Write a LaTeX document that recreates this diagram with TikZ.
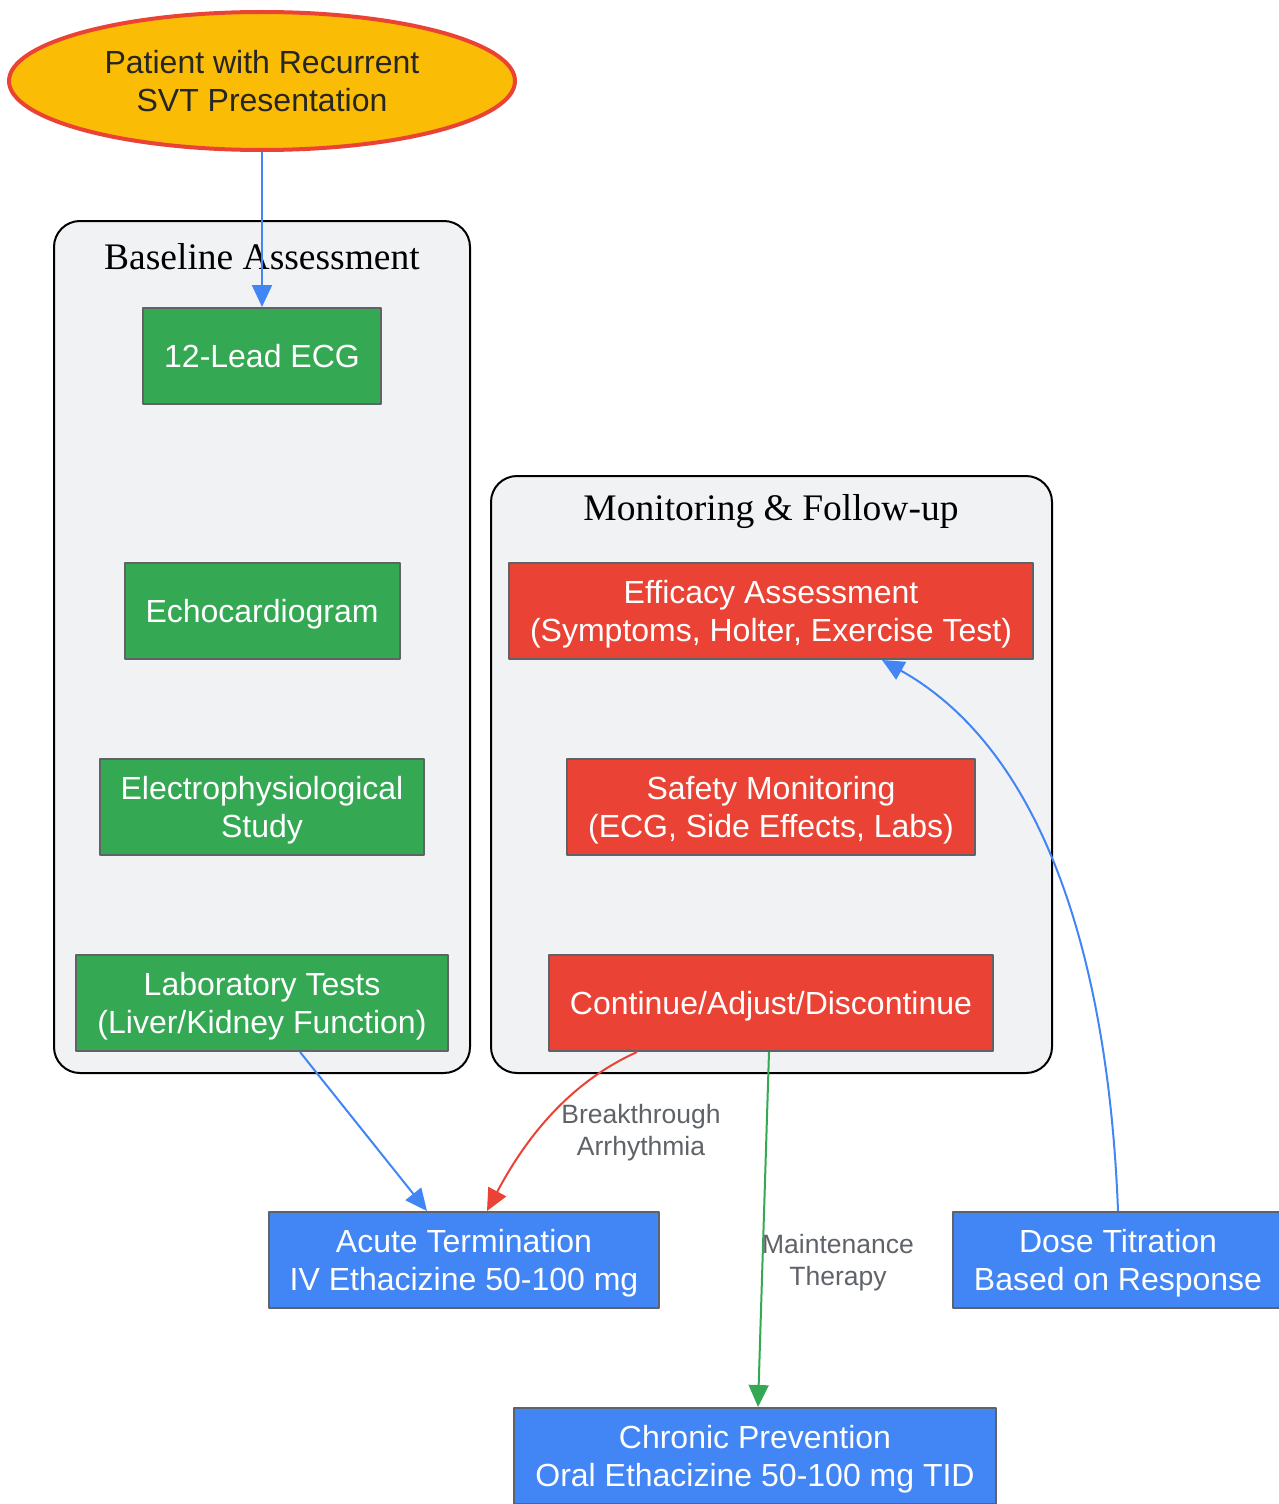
\documentclass[tikz,border=0pt]{standalone}
\usepackage{fontspec}
\setmainfont{Liberation Serif}
\newfontfamily\arialfont{Liberation Sans}
\usetikzlibrary{shapes.geometric,arrows.meta}
\definecolor{ggreen}{HTML}{34A853}
\definecolor{gred}{HTML}{EA4335}
\definecolor{gblue}{HTML}{4285F4}
\definecolor{gyellow}{HTML}{FBBC05}
\definecolor{ggray}{HTML}{5F6368}
\definecolor{clfill}{HTML}{F1F2F4}
\tikzset{
	box/.style = {rectangle, draw = ggray, line width = 2pt, text = white, align = center,
		font = \arialfont\fontsize{32}{38}\selectfont, minimum height = 96pt, inner xsep = 21pt,
		text depth = 0pt},
	greenbox/.style = {box, fill = ggreen},
	redbox/.style = {box, fill = gred},
	bluebox/.style = {box, fill = gblue},
	cluster/.style = {draw = black, line width = 2pt, fill = clfill, rounded corners = 26pt},
	cltitle/.style = {font = \fontsize{37.5}{40}\selectfont},
	lbl/.style = {text = ggray, align = center, font = \arialfont\fontsize{26.5}{32}\selectfont},
	link/.style = {line width = 2pt, -{Triangle[length = 22pt, width = 20pt]}}
}
\begin{document}
\begin{tikzpicture}[x = 1pt, y = -1pt, line join = round]
	\useasboundingbox (0,0) rectangle (1278,1504);
	% clusters
	\draw[cluster] (54,221) rectangle (470,1073);
	\node[cltitle] (basetitle) at (262,257) {Baseline Assessment};
	\draw[cluster] (491,476) rectangle (1052,1073);
	\node[cltitle] (montitle) at (771,512) {Monitoring \& Follow-up};
	% start
	\node[ellipse, draw = gred, line width = 4pt, fill = gyellow, text = black!85, align = center,
		minimum width = 506pt, minimum height = 138pt, inner sep = 0pt,
		font = \arialfont\fontsize{32}{38}\selectfont] (patient) at (262,81) {Patient with Recurrent\\SVT Presentation};
	% baseline
	\node[greenbox] (ecg) at (262,356) {12-Lead ECG};
	\node[greenbox] (echo) at (262,611) {Echocardiogram};
	\node[greenbox] (eps) at (262,807) {Electrophysiological\\Study};
	\node[greenbox] (labs) at (262,1003) {Laboratory Tests\\(Liver/Kidney Function)};
	% monitoring
	\node[redbox] (efficacy) at (771,611) {Efficacy Assessment\\(Symptoms, Holter, Exercise Test)};
	\node[redbox] (safety) at (771,807) {Safety Monitoring\\(ECG, Side Effects, Labs)};
	\node[redbox] (decide) at (771,1003) {Continue/Adjust/Discontinue};
	% treatment
	\node[bluebox] (acute) at (464,1260) {Acute Termination\\IV Ethacizine 50-100 mg};
	\node[bluebox] (titrate) at (1118,1260) {Dose Titration\\Based on Response};
	\node[bluebox] (chronic) at (755,1456) {Chronic Prevention\\Oral Ethacizine 50-100 mg TID};
	% links
	\draw[link, gblue] (patient) -- (ecg);
	\draw[link, gblue] ([xshift = 38pt]labs.south) -- ([xshift = -37pt]acute.north);
	\draw[link, gred] ([xshift = -134pt]decide.south) .. controls (575,1080) and (530,1130) .. ([xshift = 23pt]acute.north);
	\node[lbl] (brk) at (641,1133) {Breakthrough\\Arrhythmia};
	\draw[link, ggreen] ([xshift = -2pt]decide.south) -- ([xshift = 3pt]chronic.north);
	\node[lbl] (maint) at (838,1263) {Maintenance\\Therapy};
	\draw[link, gblue] (titrate.north) .. controls (1110,1000) and (1060,760) .. ([xshift = 111pt]efficacy.south);
\end{tikzpicture}
\end{document}
